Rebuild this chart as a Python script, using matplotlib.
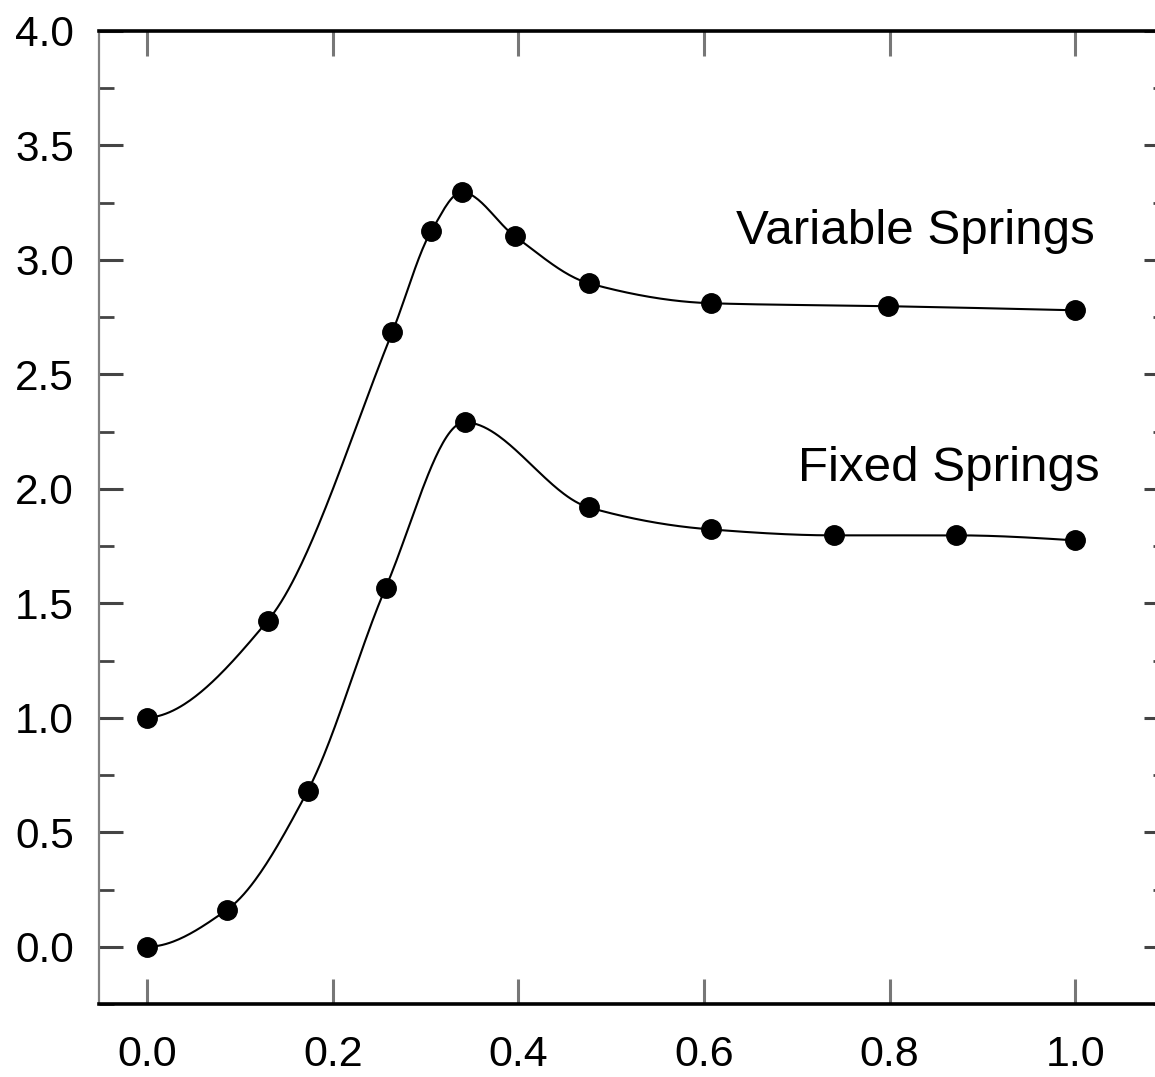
import numpy as np
import matplotlib
matplotlib.use("Agg")
import matplotlib.pyplot as plt
from matplotlib.ticker import MultipleLocator

# Data
var_x = [0.0, 0.130, 0.264, 0.306, 0.339, 0.396, 0.476, 0.607, 0.798, 1.0]
var_y = [1.00, 1.425, 2.684, 3.126, 3.296, 3.104, 2.898, 2.811, 2.798, 2.780]
fix_x = [0.0, 0.086, 0.173, 0.257, 0.342, 0.476, 0.607, 0.740, 0.872, 1.0]
fix_y = [0.00, 0.162, 0.682, 1.569, 2.291, 1.919, 1.823, 1.797, 1.797, 1.775]
x_ticks = [0.0, 0.2, 0.4, 0.6, 0.8, 1.0]
y_ticks = [0.0, 0.5, 1.0, 1.5, 2.0, 2.5, 3.0, 3.5, 4.0]
labels = ["Variable Springs", "Fixed Springs"]


def pchip(x, y, n=500):
    """Monotone cubic Hermite (Fritsch-Carlson) curve through the points."""
    x = np.asarray(x, float)
    y = np.asarray(y, float)
    h = np.diff(x)
    delta = np.diff(y) / h
    m = len(x)
    d = np.zeros(m)
    for k in range(1, m - 1):
        if delta[k - 1] * delta[k] > 0:
            w1 = 2 * h[k] + h[k - 1]
            w2 = h[k] + 2 * h[k - 1]
            d[k] = (w1 + w2) / (w1 / delta[k - 1] + w2 / delta[k])
        else:
            d[k] = 0.0

    def end(h0, h1, del0, del1):
        dd = ((2 * h0 + h1) * del0 - h0 * del1) / (h0 + h1)
        if np.sign(dd) != np.sign(del0):
            dd = 0.0
        elif np.sign(del0) != np.sign(del1) and abs(dd) > abs(3 * del0):
            dd = 3 * del0
        return dd

    d[0] = end(h[0], h[1], delta[0], delta[1])
    d[-1] = end(h[-1], h[-2], delta[-1], delta[-2])
    xs = np.linspace(x[0], x[-1], n)
    idx = np.clip(np.searchsorted(x, xs) - 1, 0, m - 2)
    t = (xs - x[idx]) / h[idx]
    h00 = 2 * t**3 - 3 * t**2 + 1
    h10 = t**3 - 2 * t**2 + t
    h01 = -2 * t**3 + 3 * t**2
    h11 = t**3 - t**2
    ys = (h00 * y[idx] + h10 * h[idx] * d[idx]
          + h01 * y[idx + 1] + h11 * h[idx] * d[idx + 1])
    return xs, ys


plt.rcParams["font.family"] = ["Liberation Sans", "DejaVu Sans"]

fig = plt.figure(figsize=(11.55, 10.77), dpi=100)
ax = fig.add_axes([99 / 1155, 73 / 1077, 1069 / 1155, 973 / 1077])

for xs_, ys_ in [(var_x, var_y), (fix_x, fix_y)]:
    sx, sy = pchip(xs_, ys_)
    ax.plot(sx, sy, color="black", lw=1.5, zorder=2)
    ax.plot(xs_, ys_, "o", color="black", ms=14, zorder=3)

ax.text(0.634, 3.07, labels[0], fontsize=35.5, ha="left", va="baseline")
ax.text(0.701, 2.033, labels[1], fontsize=35.5, ha="left", va="baseline")

ax.set_xlim(-0.052, 1.10)
ax.set_ylim(-0.25, 4.0)
ax.set_xticks(x_ticks)
ax.set_xticklabels([f"{v:.1f}" for v in x_ticks])
ax.set_yticks(y_ticks)
ax.set_yticklabels([f"{v:.1f}" for v in y_ticks])
ax.yaxis.set_minor_locator(MultipleLocator(0.25))

ax.tick_params(axis="x", which="major", direction="in", top=True, bottom=True,
               length=18, width=2.2, color="#777777", labelsize=31, pad=22)
ax.tick_params(axis="y", which="major", direction="in", left=True, right=True,
               length=17, width=2.2, color="#444444", labelsize=30.5, pad=18)
ax.tick_params(axis="y", which="minor", direction="in", left=True, right=True,
               length=11, width=2.0, color="#444444")

ax.spines["top"].set_linewidth(2.6)
ax.spines["bottom"].set_linewidth(2.6)
ax.spines["top"].set_color("black")
ax.spines["bottom"].set_color("black")
ax.spines["left"].set_linewidth(1.6)
ax.spines["left"].set_color("#808080")
ax.spines["right"].set_linewidth(1.6)
ax.spines["right"].set_color("#808080")

fig.savefig("out.png", dpi=100)
